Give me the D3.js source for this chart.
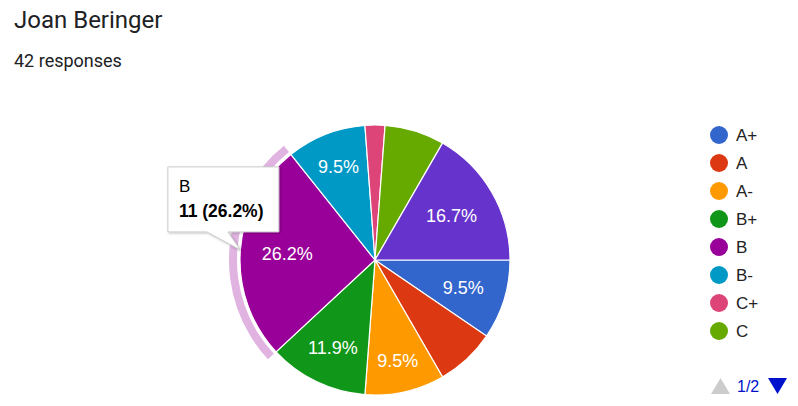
<!DOCTYPE html>
<html>
<head>
<meta charset="utf-8">
<script src="https://cdn.jsdelivr.net/npm/d3@7"></script>
<style>
  html, body { margin: 0; padding: 0; background: #fff; }
  svg { display: block; }
</style>
</head>
<body>
<svg id="chart" width="798" height="406"></svg>
<script>
// ---- data ----
const title = "Joan Beringer";
const responsesLabel = "42 responses";
const categories = ["A+", "A", "A-", "B+", "B", "B-", "C+", "C", "C-"];
const counts = [4, 3, 4, 5, 11, 4, 1, 3, 7];
const colors = ["#3366cc", "#dc3912", "#ff9900", "#109618", "#990099", "#0099c6", "#dd4477", "#66aa00", "#6633cc"];
const legendPageSize = 8;
const highlighted = "B";
const pageLabel = "1/2";

const svg = d3.select("#chart");
const cx = 375, cy = 260, R = 135;
const total = d3.sum(counts);
const data = categories.map((c, i) => ({ cat: c, value: counts[i], color: colors[i] }));

// title
svg.append("text").attr("x", 14).attr("y", 28)
  .attr("font-family", "Roboto, 'Noto Sans', sans-serif").attr("font-size", 24)
  .attr("fill", "#202124").text(title);
svg.append("text").attr("x", 14).attr("y", 67)
  .attr("font-family", "Roboto, 'Noto Sans', sans-serif").attr("font-size", 18)
  .attr("fill", "#202124").text(responsesLabel);

const pie = d3.pie().value(d => d.value).sort(null)
  .startAngle(Math.PI / 2).endAngle(Math.PI / 2 + 2 * Math.PI);
const arcs = pie(data);
const arc = d3.arc().innerRadius(0).outerRadius(R);

const g = svg.append("g").attr("transform", `translate(${cx},${cy})`);

// highlight ring for hovered slice
const hi = arcs.find(a => a.data.cat === highlighted);
g.append("path")
  .attr("d", d3.arc().innerRadius(R + 3).outerRadius(R + 11)(hi))
  .attr("fill", "#e0b3e0");

g.selectAll("path.slice").data(arcs).join("path")
  .attr("class", "slice")
  .attr("d", arc)
  .attr("fill", d => d.data.color)
  .attr("stroke", "#fff").attr("stroke-width", 1.2);

// labels
const fmt = v => (v / total * 100).toFixed(1) + "%";
const labelFont = "'Liberation Sans', Arial, sans-serif";
const labelSize = 18;
const Rout = 114;
const labels = g.selectAll("text.lbl").data(arcs.filter(a => a.data.value / total >= 0.09)).join("text")
  .attr("class", "lbl")
  .attr("font-family", labelFont).attr("font-size", labelSize)
  .attr("fill", "#fff").attr("text-anchor", "middle")
  .text(d => fmt(d.data.value));
labels.each(function(d) {
  const w = this.getComputedTextLength();
  const mid = (d.startAngle + d.endAngle) / 2;
  const sx = Math.sin(mid), sy = -Math.cos(mid);
  const hw = w / 2, hh = 7;
  const dist = Rout - (Math.abs(sx) * hw + Math.abs(sy) * hh);
  d3.select(this).attr("x", sx * dist).attr("y", sy * dist + 6.5);
});

// legend
const legend = svg.append("g");
const lx = 719, ly0 = 135, lstep = 28;
data.slice(0, legendPageSize).forEach((d, i) => {
  legend.append("circle").attr("cx", lx).attr("cy", ly0 + i * lstep).attr("r", 9).attr("fill", d.color);
  legend.append("text").attr("x", lx + 17).attr("y", ly0 + i * lstep + 6)
    .attr("font-family", labelFont).attr("font-size", 17).attr("fill", "#222")
    .text(d.cat);
});
// pager
legend.append("path").attr("d", "M711,394 L720.5,378 L730,394 Z").attr("fill", "#cccccc");
legend.append("text").attr("x", 737).attr("y", 392)
  .attr("font-family", labelFont).attr("font-size", 16).attr("fill", "#0011cc").text(pageLabel);
legend.append("path").attr("d", "M768,378 L787,378 L777.5,394 Z").attr("fill", "#0011cc");

// tooltip
const midB = (hi.startAngle + hi.endAngle) / 2;
const tipX = cx + Math.sin(midB) * R, tipY = cy - Math.cos(midB) * R;
const bx = tipX - 72.5, by = tipY - 83, bw = 111, bh = 65;
const tt = svg.append("g");
const defs = svg.append("defs");
const f = defs.append("filter").attr("id", "sh").attr("x", "-20%").attr("y", "-20%").attr("width", "140%").attr("height", "150%");
f.append("feDropShadow").attr("dx", 1).attr("dy", 1).attr("stdDeviation", 1.2).attr("flood-color", "#000").attr("flood-opacity", 0.25);
const tail1 = bx + 39, tail2 = bx + 60;
tt.append("path")
  .attr("d", `M${bx},${by} H${bx + bw} V${by + bh} H${tail2} L${tipX},${tipY} L${tail1},${by + bh} H${bx} Z`)
  .attr("fill", "#fff").attr("stroke", "#cccccc").attr("stroke-width", 1)
  .attr("filter", "url(#sh)");
tt.append("text").attr("x", bx + 11).attr("y", by + 25)
  .attr("font-family", labelFont).attr("font-size", 17).attr("fill", "#000").text(hi.data.cat);
tt.append("text").attr("x", bx + 11).attr("y", by + 50)
  .attr("font-family", labelFont).attr("font-size", 17.5).attr("font-weight", "bold").attr("fill", "#000")
  .text(`${hi.data.value} (${fmt(hi.data.value)})`);
</script>
</body>
</html>
